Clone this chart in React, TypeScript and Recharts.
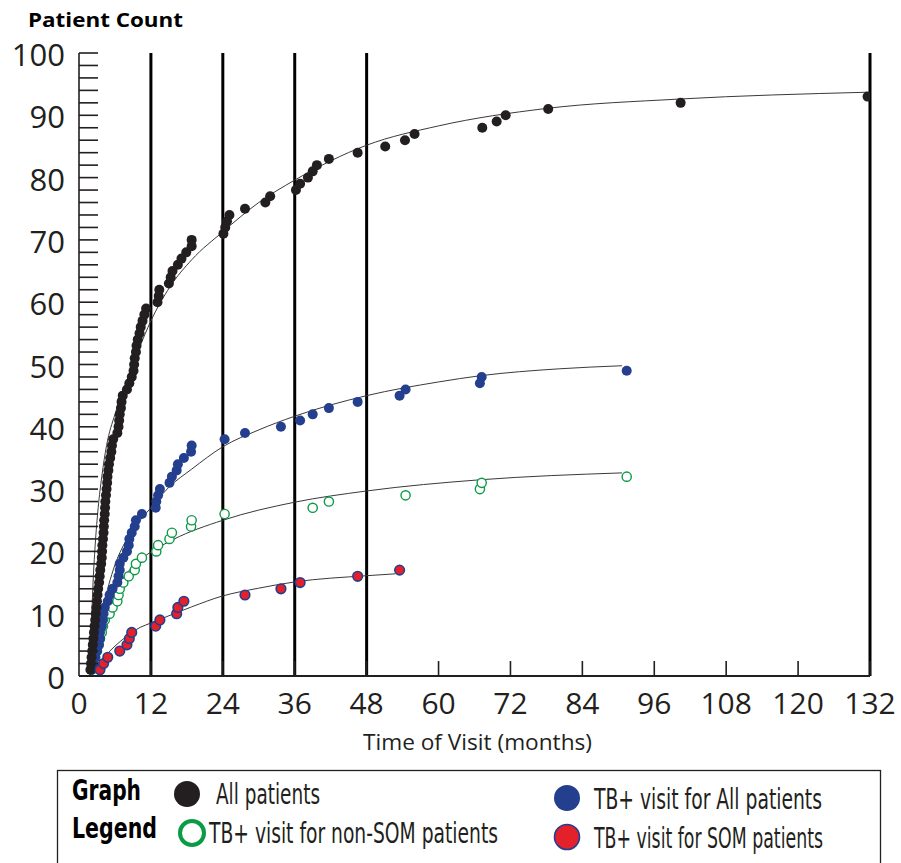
import React from 'react';
import { ComposedChart, Scatter, Line, XAxis, YAxis, ReferenceLine } from 'recharts';

// ---------- data ----------
const allPatientsMonths = [
  1.9, 2.0, 2.1, 2.2, 2.3, 2.4, 2.5, 2.6, 2.7, 2.8,
  2.9, 3.0, 3.1, 3.2, 3.35, 3.45, 3.55, 3.7, 3.8, 3.85,
  3.9, 4.0, 4.1, 4.15, 4.2, 4.3, 4.35, 4.4, 4.5, 4.6,
  4.7, 4.75, 4.9, 5.0, 5.2, 5.4, 5.5, 5.7, 6.4, 6.6,
  6.7, 6.8, 7.0, 7.1, 7.3, 8.0, 8.4, 8.8, 9.1, 9.2,
  9.3, 9.5, 9.6, 9.8, 10.1, 10.3, 10.6, 10.9, 11.2, 13.1,
  13.3, 13.4, 15.0, 15.3, 15.6, 16.5, 17.1, 17.9, 18.8, 18.8,
  24.1, 24.4, 24.7, 25.1, 27.7, 31.1, 31.9, 36.2, 36.9, 38.2,
  39.0, 39.7, 41.7, 46.5, 51.1, 54.4, 56.0, 67.3, 69.7, 71.2,
  78.3, 100.4, 131.6,
];
const allPatientsCounts = [
  1, 2, 3, 4, 5, 6, 7, 8, 9, 10,
  11, 12, 13, 14, 15, 16, 17, 18, 19, 20,
  21, 22, 23, 24, 25, 26, 27, 28, 29, 30,
  31, 32, 33, 34, 35, 36, 37, 38, 39, 40,
  41, 42, 43, 44, 45, 46, 47, 48, 49, 50,
  51, 52, 53, 54, 55, 56, 57, 58, 59, 60,
  61, 62, 63, 64, 65, 66, 67, 68, 69, 70,
  71, 72, 73, 74, 75, 76, 77, 78, 79, 80,
  81, 82, 83, 84, 85, 86, 87, 88, 89, 90,
  91, 92, 93,
];

const tbAllMonths = [
  2.1, 2.4, 2.7, 3.0, 3.3, 3.5, 3.5, 3.8, 4.0, 4.1,
  4.3, 4.8, 5.1, 5.6, 6.4, 6.6, 6.8, 6.8, 7.4, 8.0,
  8.3, 8.4, 8.8, 9.3, 9.5, 10.5, 12.8, 12.9, 13.2, 13.5,
  15.1, 15.5, 16.3, 16.5, 17.5, 18.7, 18.8, 24.3, 27.7, 33.7,
  36.9, 39.0, 41.7, 46.5, 53.5, 54.5, 66.9, 67.2, 91.4,
];
const tbAllCounts = [
  1, 2, 3, 4, 5, 6, 7, 8, 9, 10,
  11, 12, 13, 14, 15, 16, 17, 18, 19, 20,
  21, 22, 23, 24, 25, 26, 27, 28, 29, 30,
  31, 32, 33, 34, 35, 36, 37, 38, 39, 40,
  41, 42, 43, 44, 45, 46, 47, 48, 49,
];

const tbNonSomMonths = [
  2.1, 2.4, 2.7, 3.0, 3.3, 3.5, 3.8, 4.0, 4.3, 5.1,
  5.6, 6.4, 6.6, 6.8, 7.4, 8.3, 9.3, 9.5, 10.5, 12.9,
  13.2, 15.1, 15.5, 18.7, 18.8, 24.3, 39.0, 41.7, 54.5, 66.9,
  67.2, 91.4,
];
const tbNonSomCounts = [
  1, 2, 3, 4, 5, 6, 7, 8, 9, 10,
  11, 12, 13, 14, 15, 16, 17, 18, 19, 20,
  21, 22, 23, 24, 25, 26, 27, 28, 29, 30,
  31, 32,
];

const tbSomMonths = [3.5, 4.1, 4.8, 6.8, 8.0, 8.4, 8.8, 12.8, 13.5, 16.3, 16.5, 17.5, 27.7, 33.7, 36.9, 46.5, 53.5];
const tbSomCounts = [1, 2, 3, 4, 5, 6, 7, 8, 9, 10, 11, 12, 13, 14, 15, 16, 17];

// fitted trend curves
const allFitMonths = [1.8, 2.0, 2.3, 2.7, 3.2, 3.8, 4.6, 6.0, 8.0, 10.0, 12.0, 15.2, 18.8, 24.0, 30.0, 36.0, 48.0, 60.0, 78.0, 100.0, 131.5];
const allFitValues = [0, 6, 14, 21, 27, 32, 37, 42, 47.5, 52.5, 57, 62.5, 66.8, 71.3, 76, 79.6, 85.2, 88.3, 91.1, 92.6, 93.7];

const tbAllFitMonths = [2.2, 2.8, 3.8, 5.7, 8.0, 10.2, 12.0, 15.0, 18.8, 24.0, 30.0, 36.0, 48.0, 60.0, 67.0, 80.0, 90.6];
const tbAllFitValues = [0.5, 5, 10, 17, 22, 25, 27, 30.3, 33.2, 36.8, 39.5, 41.7, 45, 47.2, 48.2, 49.3, 49.8];

const tbNonSomFitMonths = [2.3, 3.0, 4.1, 6.0, 8.0, 10.0, 12.7, 15.7, 24.0, 36.0, 48.0, 67.0, 90.6];
const tbNonSomFitValues = [1, 5.5, 9.5, 13.5, 16.5, 18.5, 20.3, 21.9, 25, 27.9, 29.7, 31.5, 32.6];

const tbSomFitMonths = [2.7, 4.0, 6.0, 8.0, 10.2, 12.0, 18.8, 23.8, 30.0, 36.0, 48.0, 52.8];
const tbSomFitValues = [1.2, 2.8, 4.8, 6.4, 7.8, 8.5, 11.1, 12.8, 14.1, 15.1, 16.1, 16.4];

const xTicks = [0, 12, 24, 36, 48, 60, 72, 84, 96, 108, 120, 132];
const yTicks = [0, 2, 4, 6, 8, 10, 12, 14, 16, 18, 20, 22, 24, 26, 28, 30, 32, 34, 36, 38, 40, 42, 44, 46, 48, 50,
  52, 54, 56, 58, 60, 62, 64, 66, 68, 70, 72, 74, 76, 78, 80, 82, 84, 86, 88, 90, 92, 94, 96, 98, 100];
const yLabelTicks = [0, 10, 20, 30, 40, 50, 60, 70, 80, 90, 100];
const dividerMonths = [12, 24, 36, 48, 132];

const legendItems = [
  'All patients',
  'TB+ visit for non-SOM patients',
  'TB+ visit for All patients',
  'TB+ visit for SOM patients',
];

// ---------- layout ----------
const W = 901;
const H = 863;
const PLOT_LEFT = 79;
const PLOT_TOP = 53;
const PLOT_RIGHT = 870;
const PLOT_BOTTOM = 676;
const Y_AXIS_W = 70;
const X_AXIS_H = 60;

const INK = '#231f20';
const BLUE = '#233f8e';
const GREEN = '#0b9a46';
const RED = '#e4202a';
const TICK_FONT = "'Open Sans', 'Noto Sans', sans-serif";
const COND_FONT = "'DejaVu Sans Condensed', 'Noto Sans', sans-serif";
const SQUEEZE = 0.72;

const zip = (xs: number[], ys: number[]) => xs.map((x, i) => ({ x, y: ys[i] }));

const allData = zip(allPatientsMonths, allPatientsCounts);
const tbAllData = zip(tbAllMonths, tbAllCounts);
const nonSomData = zip(tbNonSomMonths, tbNonSomCounts);
const somData = zip(tbSomMonths, tbSomCounts);
const allFit = zip(allFitMonths, allFitValues);
const tbAllFit = zip(tbAllFitMonths, tbAllFitValues);
const nonSomFit = zip(tbNonSomFitMonths, tbNonSomFitValues);
const somFit = zip(tbSomFitMonths, tbSomFitValues);

const YTick = (props: any) => {
  const { y, payload } = props;
  const v = payload.value;
  return (
    <g>
      <line x1={PLOT_LEFT} x2={PLOT_LEFT + 19} y1={y} y2={y} stroke={INK} strokeWidth={1.6} />
      {yLabelTicks.includes(v) && (
        <text x={65} y={y + 13} textAnchor="end" fontSize={31} fontFamily={TICK_FONT} fill={INK}>
          {v}
        </text>
      )}
    </g>
  );
};

const XTick = (props: any) => {
  const { x, payload } = props;
  const v = payload.value;
  return (
    <g>
      {v !== 0 && (
        <line x1={x} x2={x} y1={PLOT_BOTTOM} y2={PLOT_BOTTOM - 15} stroke={INK} strokeWidth={1.6} />
      )}
      <text x={x} y={PLOT_BOTTOM + 38} textAnchor="middle" fontSize={30} fontFamily={TICK_FONT} fill={INK}>
        {v}
      </text>
    </g>
  );
};

const blackDot = (p: any) => <circle cx={p.cx} cy={p.cy} r={5} fill={INK} />;
const blueDot = (p: any) => <circle cx={p.cx} cy={p.cy} r={5} fill={BLUE} />;
const greenRing = (p: any) => (
  <circle cx={p.cx} cy={p.cy} r={4.6} fill="#ffffff" stroke={GREEN} strokeWidth={1.4} />
);
const redDot = (p: any) => (
  <circle cx={p.cx} cy={p.cy} r={4.8} fill={RED} stroke={BLUE} strokeWidth={1.6} />
);

// squeezed (condensed-looking) legend text
const CondText = ({ x, y, width, size, bold, children }: any) => (
  <text
    transform={`translate(${x},${y}) scale(${SQUEEZE},1)`}
    x={0}
    y={0}
    fontSize={size}
    fontWeight={bold ? 700 : 400}
    fontFamily={COND_FONT}
    fill={bold ? '#000' : INK}
    textLength={width / SQUEEZE}
    lengthAdjust="spacingAndGlyphs"
  >
    {children}
  </text>
);

export default function App() {
  return (
    <div style={{ position: 'absolute', left: 0, top: 0, width: W, height: H, background: '#fff' }}>
      <ComposedChart
        width={W}
        height={H}
        margin={{
          top: PLOT_TOP,
          right: W - PLOT_RIGHT,
          bottom: H - PLOT_BOTTOM - X_AXIS_H,
          left: PLOT_LEFT - Y_AXIS_W,
        }}
      >
        <XAxis
          type="number"
          dataKey="x"
          domain={[0, 132]}
          ticks={xTicks}
          allowDataOverflow
          interval={0}
          height={X_AXIS_H}
          axisLine={{ stroke: INK, strokeWidth: 2 }}
          tickLine={false}
          tick={<XTick />}
        />
        <YAxis
          type="number"
          dataKey="y"
          domain={[0, 100]}
          ticks={yTicks}
          allowDataOverflow
          interval={0}
          width={Y_AXIS_W}
          axisLine={{ stroke: INK, strokeWidth: 1.6 }}
          tickLine={false}
          tick={<YTick />}
        />
        {dividerMonths.map((m) => (
          <ReferenceLine key={m} x={m} stroke="#000" strokeWidth={3} ifOverflow="extendDomain" />
        ))}
        <Line data={allFit} dataKey="y" type="monotone" dot={false} stroke="#3a3a3a" strokeWidth={1} isAnimationActive={false} />
        <Line data={tbAllFit} dataKey="y" type="monotone" dot={false} stroke="#3a3a3a" strokeWidth={1} isAnimationActive={false} />
        <Line data={nonSomFit} dataKey="y" type="monotone" dot={false} stroke="#3a3a3a" strokeWidth={1} isAnimationActive={false} />
        <Line data={somFit} dataKey="y" type="monotone" dot={false} stroke="#3a3a3a" strokeWidth={1} isAnimationActive={false} />
        <Scatter data={nonSomData} shape={greenRing} isAnimationActive={false} />
        <Scatter data={tbAllData} shape={blueDot} isAnimationActive={false} />
        <Scatter data={allData} shape={blackDot} isAnimationActive={false} />
        <Scatter data={somData} shape={redDot} isAnimationActive={false} />
      </ComposedChart>

      <svg
        width={W}
        height={H}
        style={{ position: 'absolute', left: 0, top: 0, pointerEvents: 'none' }}
      >
        <text x={28} y={27} fontSize={20} fontWeight={700} fontFamily={TICK_FONT} fill="#000" textLength={155} lengthAdjust="spacingAndGlyphs">
          Patient Count
        </text>
        <text x={363} y={750} fontSize={21} fontFamily={TICK_FONT} fill={INK} textLength={229} lengthAdjust="spacingAndGlyphs">
          Time of Visit (months)
        </text>

        <rect x={57.5} y={770.5} width={823} height={110} fill="none" stroke={INK} strokeWidth={1.3} />
        <CondText x={72} y={800} width={69} size={29} bold>Graph</CondText>
        <CondText x={72} y={838} width={85} size={29} bold>Legend</CondText>

        <circle cx={187} cy={794} r={13} fill={INK} />
        <CondText x={216} y={804} width={104} size={28}>{legendItems[0]}</CondText>

        <circle cx={192} cy={833} r={12} fill="#fff" stroke={GREEN} strokeWidth={4} />
        <CondText x={209} y={843} width={289} size={28}>{legendItems[1]}</CondText>

        <circle cx={567} cy={798} r={13} fill={BLUE} />
        <CondText x={594} y={809} width={228} size={28}>{legendItems[2]}</CondText>

        <circle cx={567} cy={837} r={12.5} fill={RED} stroke={BLUE} strokeWidth={1.6} />
        <CondText x={594} y={848} width={229} size={28}>{legendItems[3]}</CondText>
      </svg>
    </div>
  );
}
